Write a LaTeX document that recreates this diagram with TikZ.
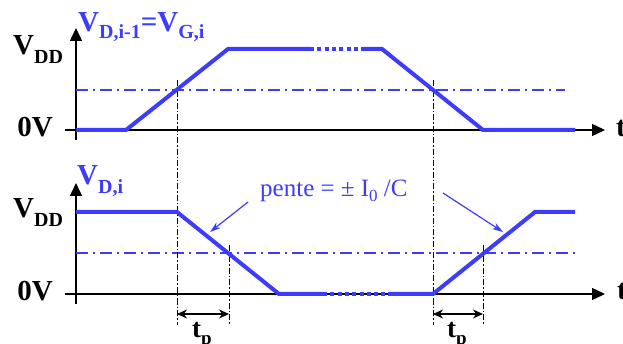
\documentclass[tikz,border=0pt]{standalone}
\usepackage{fontspec}
\setmainfont{Liberation Serif}
\usetikzlibrary{arrows.meta}
\definecolor{sigblue}{RGB}{60,60,250}
\newcommand{\lowsub}[2][9pt]{\raisebox{-#1}{\fontsize{20}{20}\selectfont #2}}
\begin{document}
\begin{tikzpicture}[x=1pt,y=-1pt,
  axis/.style={line width=1.4pt, -{Triangle[length=13pt,width=12pt]}},
  signal/.style={line width=4pt, sigblue},
  gapline/.style={line width=4pt, sigblue, dash pattern=on 4pt off 3.3pt},
  threshold/.style={line width=1.3pt, sigblue, dash pattern=on 12pt off 5pt on 2pt off 5pt},
  marker/.style={line width=1pt, black, dash pattern=on 6pt off 2pt on 1.5pt off 2pt},
  delay/.style={line width=1.5pt, {Stealth[length=10pt,width=9pt]}-{Stealth[length=10pt,width=9pt]}},
  note/.style={line width=1.2pt, sigblue, -{Stealth[length=11pt,width=7pt]}},
  lab/.style={inner sep=0pt, font=\fontsize{29}{29}\selectfont\bfseries},
  tplab/.style={inner sep=0pt, font=\fontsize{27}{27}\selectfont\bfseries},
]
\clip (0,0) rectangle (623,344);

% ---------- top plot ----------
\coordinate (tyb) at (76,140);
\coordinate (tyt) at (76,28);
\coordinate (txl) at (65,130);
\coordinate (txr) at (605,130);
\draw[axis] (tyb) -- (tyt);
\draw[axis] (txl) -- (txr);
\draw[threshold] (76,90) -- (565,90);

% ---------- bottom plot ----------
\coordinate (byb) at (76,304);
\coordinate (byt) at (76,183);
\coordinate (bxl) at (65,294);
\coordinate (bxr) at (605,294);
\draw[axis] (byb) -- (byt);
\draw[axis] (bxl) -- (bxr);
\draw[threshold] (76,253) -- (577,253);

% vertical markers
\draw[marker] (177,80) -- (177,325);
\draw[marker] (433,80) -- (433,325);
\draw[marker] (229,245) -- (229,325);
\draw[marker] (483,245) -- (483,325);

% signals
\draw[signal] (76,130) -- (126,130) -- (228,49) -- (310,49);
\draw[gapline] (310,49) -- (362,49);
\draw[signal] (362,49) -- (382,49) -- (483,130) -- (575,130);

\draw[signal] (76,212) -- (177,212) -- (279,294) -- (323,294);
\draw[gapline] (323,294) -- (388,294);
\draw[signal] (388,294) -- (433,294) -- (535,212) -- (575,212);

% delay arrows
\coordinate (d1a) at (177,314);
\coordinate (d1b) at (229,314);
\coordinate (d2a) at (433,314);
\coordinate (d2b) at (483,314);
\draw[delay] (d1a) -- (d1b);
\draw[delay] (d2a) -- (d2b);
\node[tplab, anchor=base west] (tp1) at (192,337) {t\raisebox{-7pt}{\fontsize{19}{19}\selectfont p}};
\node[tplab, anchor=base west] (tp2) at (447,337) {t\raisebox{-7pt}{\fontsize{19}{19}\selectfont p}};

% labels
\node[lab, anchor=base west] (vddt) at (13,55) {V\lowsub{DD}};
\node[lab, anchor=base east] (zerot) at (53,137) {0V};
\node[lab, anchor=base west] (vddb) at (13,218) {V\lowsub{DD}};
\node[lab, anchor=base east] (zerob) at (53,301) {0V};
\node[lab, anchor=base west, text=sigblue] (titlet) at (78,32) {V\lowsub[7pt]{D,i-1}=V\lowsub[7pt]{G,i}};
\node[lab, anchor=base west, text=sigblue] (titleb) at (77,185) {V\lowsub[9pt]{D,i}};
\node[lab, anchor=base west] (tt) at (616,137) {t};
\node[lab, anchor=base west] (tb) at (617,300) {t};

% slope note
\node[anchor=base west, inner sep=0pt, text=sigblue, font=\fontsize{25}{25}\selectfont] (pente) at (260,197) {pente = ± I\raisebox{-5pt}{\fontsize{17}{17}\selectfont 0} /C};
\coordinate (n1s) at (248,202);
\coordinate (n1e) at (210,232);
\coordinate (n2s) at (443,193);
\coordinate (n2e) at (503,232);
\draw[note] (n1s) -- (n1e);
\draw[note] (n2s) -- (n2e);
\end{tikzpicture}
\end{document}
